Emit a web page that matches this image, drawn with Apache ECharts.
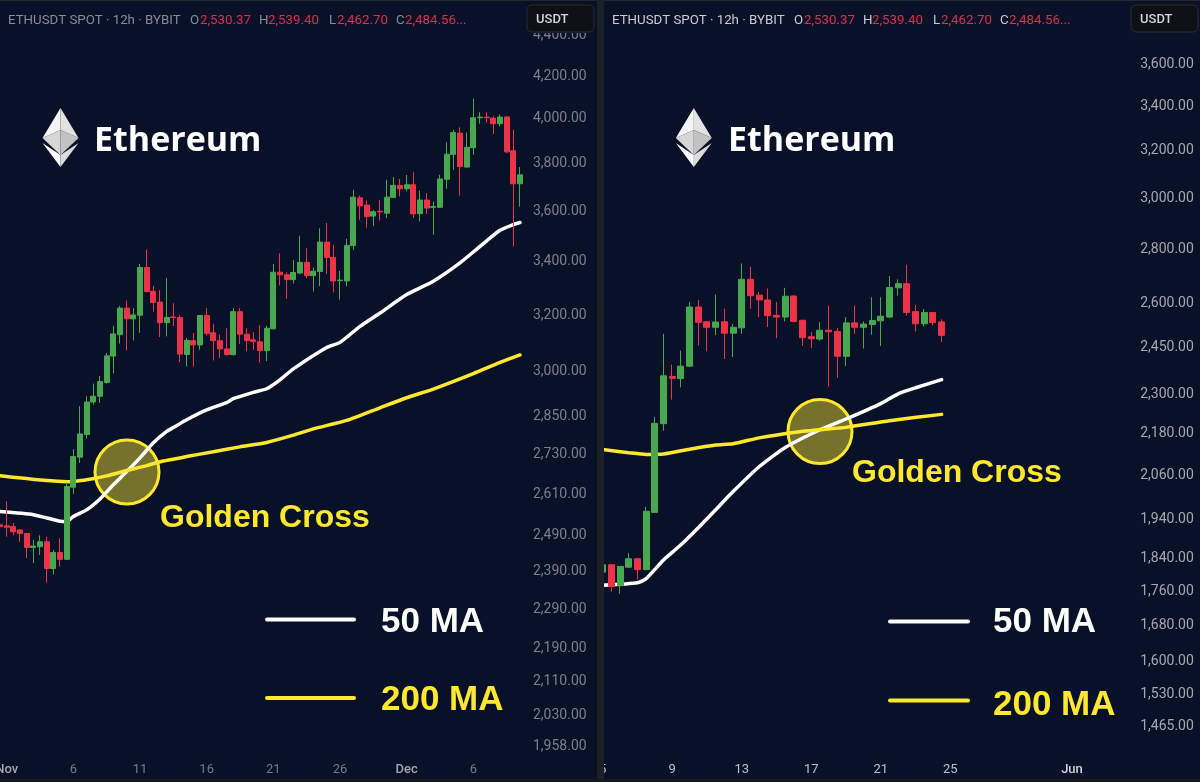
<!DOCTYPE html>
<html>
<head>
<meta charset="utf-8">
<title>Ethereum golden cross</title>
<script src="https://cdn.jsdelivr.net/npm/echarts@6/dist/echarts.min.js"></script>
<style>
  html, body { margin: 0; padding: 0; background: #091128; }
  #main { width: 1200px; height: 782px; }
</style>
</head>
<body>
<div id="main"></div>
<script>
// left panel, Nov - Dec, 12h candles
var openL  = [2515,2512,2510,2500,2490,2451,2453,2467,2393,2437,2418,2625,2716,2787,2892,2911,2957,3047,3122,3218,3179,3192,3370,3280,3240,3165,3186,3184,3053,3101,3086,3191,3129,3101,3072,3052,3205,3124,3104,3097,3066,3143,3352,3342,3324,3349,3390,3339,3355,3469,3409,3320,3319,3455,3648,3618,3573,3593,3585,3650,3700,3686,3703,3583,3639,3609,3609,3726,3833,3927,3778,3862,3996,3999,3994,3969,4000,3849,3707];
var closeL = [2510,2508,2495,2490,2451,2455,2467,2393,2437,2418,2627,2718,2789,2892,2911,2960,3048,3125,3218,3179,3193,3370,3279,3239,3165,3184,3184,3054,3102,3086,3191,3127,3101,3072,3052,3205,3124,3102,3098,3066,3145,3352,3342,3324,3351,3390,3339,3356,3469,3409,3319,3322,3456,3651,3615,3571,3591,3590,3651,3700,3686,3703,3582,3639,3606,3612,3727,3834,3930,3780,3864,3996,3999,3996,3969,3999,3844,3707,3745];
var lowL   = [2467,2481,2485,2467,2421,2408,2430,2355,2377,2398,2416,2605,2698,2774,2883,2889,2953,2988,3091,3067,3102,3129,3276,3205,3114,3116,3153,3026,3011,3011,3069,3119,3032,3040,3049,3049,3089,3064,3069,3025,3030,3141,3302,3252,3309,3345,3330,3279,3299,3345,3276,3249,3299,3439,3558,3526,3532,3555,3565,3647,3654,3675,3566,3551,3582,3498,3608,3686,3766,3657,3776,3831,3969,3975,3922,3957,3839,3452,3612];
var highL  = [2524,2583,2520,2502,2492,2472,2485,2481,2444,2476,2639,2741,2878,2911,2953,2979,3058,3154,3226,3246,3218,3384,3440,3301,3284,3330,3236,3194,3110,3128,3193,3218,3161,3122,3145,3218,3218,3145,3131,3156,3154,3384,3425,3352,3399,3494,3445,3370,3524,3545,3458,3357,3482,3682,3658,3637,3598,3640,3724,3735,3728,3744,3756,3678,3668,3633,3745,3886,3942,3953,3930,4084,4021,4021,4002,4011,4002,3942,3778];
var ma50L  = [[0,2553],[5,2544],[9,2525],[10,2524],[11,2539],[13,2558],[15,2590],[17,2632],[19,2672],[21,2714],[23,2761],[25,2797],[26,2809],[28,2834],[31,2866],[34,2890],[35,2903],[38,2924],[40,2936],[42,2966],[44,3003],[49,3077],[51,3095],[54,3152],[57,3200],[61,3268],[65,3318],[69,3388],[72,3452],[75,3516],[77,3539],[78,3547]];
var ma200L = [[0,2659],[10,2641],[11,2642],[13,2647],[16,2659],[19,2675],[22,2690],[24,2702],[28,2718],[32,2733],[36,2748],[40,2762],[44,2785],[47,2805],[52,2832],[57,2873],[61,2906],[65,2935],[71,2987],[75,3025],[78,3051]];
var tickIdxL  = [1,11,21,31,41,51,61,71];
var tickTextL = ['Nov','6','11','16','21','26','Dec','6'];
var yTicksL = [4400,4200,4000,3800,3600,3400,3200,3000,2850,2730,2610,2490,2390,2290,2190,2110,2030,1958];

// right panel, May - Jun, 12h candles
var openR  = [1802,1820,1769,1814,1835,1808,1954,2204,2350,2343,2383,2582,2531,2512,2531,2492,2510,2681,2624,2607,2553,2547,2621,2536,2480,2472,2502,2498,2415,2527,2512,2521,2534,2547,2650,2665,2566,2524,2563,2530.37];
var closeR = [1820,1767,1816,1835,1808,1957,2205,2352,2344,2383,2582,2529,2512,2530,2492,2512,2681,2622,2607,2552,2547,2620,2532,2477,2473,2502,2497,2415,2527,2512,2523,2535,2550,2651,2665,2563,2524,2563,2528,2484.56];
var lowR   = [1800,1755,1750,1813,1784,1807,1953,2183,2277,2315,2381,2451,2431,2485,2406,2413,2490,2576,2546,2513,2475,2532,2529,2450,2442,2467,2318,2346,2383,2490,2441,2487,2449,2544,2622,2552,2498,2515,2518,2462.70];
var highR  = [1822,1821,1817,1849,1836,1969,2225,2490,2388,2434,2600,2607,2533,2626,2576,2523,2739,2727,2635,2648,2600,2650,2622,2537,2496,2529,2587,2510,2547,2587,2532,2616,2616,2693,2681,2735,2590,2575,2563,2539.40];
var ma50R  = [[0,1770],[4,1776],[5,1786],[7,1832],[9,1870],[11,1914],[13,1961],[15,2010],[18,2079],[21,2134],[25,2186],[28,2218],[32,2265],[34,2295],[36,2314],[39,2340]];
var ma200R = [[0,2128],[3,2119],[5,2114],[7,2115],[10,2129],[13,2141],[15,2145],[18,2162],[22,2178],[25,2186],[28,2193],[33,2213],[39,2232]];
var tickIdxR  = [0,8,16,24,32,40,54];
var tickTextR = ['5','9','13','17','21','25','Jun'];
var yTicksR = [3600,3400,3200,3000,2800,2600,2450,2300,2180,2060,1940,1840,1760,1680,1600,1530,1465];

var BG = '#091128', UP = '#47a84f', DOWN = '#ee3348', WHITE = '#ffffff', YELLOW = '#fde82f';

function cats(n, idx, text) {
    var out = [];
    for (var i = 0; i < n; i++) out.push('');
    idx.forEach(function (k, j) { out[k] = text[j]; });
    return out;
}
function candles(o, c, l, h) {
    return o.map(function (v, i) { return [v, c[i], l[i], h[i]]; });
}
function priceFmt(v) {
    return '{p|' + Number(v).toLocaleString('en-US', { minimumFractionDigits: 2, maximumFractionDigits: 2 }) + '}';
}

function xAxis(idx, n, text, color, monthColor) {
    return {
        type: 'category', gridIndex: idx, data: cats(n, idx === 0 ? tickIdxL : tickIdxR, text),
        axisLine: { show: false }, axisTick: { show: false }, splitLine: { show: false },
        axisLabel: {
            interval: function (i, v) { return v !== ''; },
            margin: 8, color: color, fontFamily: 'Roboto', fontSize: 13,
            hideOverlap: false,
            formatter: function (v) { return isNaN(+v) ? '{m|' + v + '}' : v; },
            rich: { m: { color: monthColor, fontFamily: 'Roboto', fontSize: 13, fontWeight: 500 } }
        }
    };
}
function yAxis(idx, min, max, ticks, color) {
    return {
        type: 'log', gridIndex: idx, position: 'right', min: min, max: max, scale: true,
        axisLine: { show: false }, axisTick: { show: false }, splitLine: { show: false }, minorTick: { show: false }, minorSplitLine: { show: false },
        axisLabel: {
            customValues: ticks, margin: 3, color: color, formatter: priceFmt,
            // taller line with the text at its foot, this drops the label onto the tick
            rich: { p: { color: color, fontFamily: 'Roboto', fontSize: 14, lineHeight: 18, verticalAlign: 'bottom' } }
        }
    };
}
function candleSeries(idx, data, w) {
    return {
        type: 'candlestick', xAxisIndex: idx, yAxisIndex: idx, data: data, barWidth: w, z: 4,
        itemStyle: { color: UP, color0: DOWN, borderColor: UP, borderColor0: DOWN, borderWidth: 1 }
    };
}
function maSeries(idx, data, color) {
    return {
        type: 'line', xAxisIndex: idx, yAxisIndex: idx, data: data, showSymbol: false, smooth: 0.2, z: 3,
        lineStyle: { color: color, width: 3.5, cap: 'round' }
    };
}

// header text is placed piece by piece, same layout in both panels
function header(dx, dim, label) {
    var red = '#dc2f48';
    var parts = [
        [8, 'ETHUSDT SPOT · 12h · BYBIT', dim], [190, 'O', dim], [200, '2,530.37', red], [259, 'H', dim], [268, '2,539.40', red],
        [329, 'L', dim], [337, '2,462.70', red], [396, 'C', dim], [405, '2,484.56...', red]
    ];
    var out = parts.map(function (p) {
        return { type: 'text', x: p[0] + dx, y: 21, z: 102,
            style: { text: p[1], fill: p[2], font: '13.3px Roboto', textVerticalAlign: 'middle' } };
    });
    out.push({ type: 'rect', z: 101, shape: { x: 527 + dx, y: 5, width: 67, height: 27, r: 5 },
        style: { fill: '#0e1015', stroke: '#292c34', lineWidth: 1 } });
    out.push({ type: 'text', x: 536 + dx, y: 20, z: 102,
        style: { text: 'USDT', fill: label, font: '500 13px Roboto', textVerticalAlign: 'middle' } });
    return out;
}
function logo(cx) {
    var poly = function (pts, fill) { return { type: 'polygon', z: 5, shape: { points: pts.map(function (p) { return [cx + p[0], p[1]]; }) }, style: { fill: fill } }; };
    return [
        poly([[0,108],[-18,138],[0,130]], '#f4f4f4'),
        poly([[0,108],[18,138],[0,130]], '#e2e2e2'),
        poly([[-18,138],[0,130],[0,155]], '#d6d6d6'),
        poly([[18,138],[0,130],[0,155]], '#c2c2c2'),
        poly([[-18,143],[0,155],[0,167]], '#ffffff'),
        poly([[18,143],[0,155],[0,167]], '#dcdcdc')
    ];
}
function label(x, y, text, color, font) {
    return { type: 'text', x: x, y: y + 2, z: 6, style: { text: text, fill: color, font: font, textVerticalAlign: 'middle' } };
}
function keyLine(x1, x2, y, color) {
    return { type: 'line', z: 6, shape: { x1: x1, y1: y, x2: x2, y2: y }, style: { stroke: color, lineWidth: 4, lineCap: 'round' } };
}
function ring(cx, cy) {
    return { type: 'circle', z: 1, shape: { cx: cx, cy: cy, r: 32 },
        style: { fill: 'rgba(253,232,47,0.45)', stroke: YELLOW, lineWidth: 3 } };
}

var TITLE = '700 34px "Open Sans"', BIG = '700 35px "Liberation Sans"', CROSS = '700 32px "Liberation Sans"';
var graphics = [
    // header strips hide the tick labels that scroll under them
    { type: 'rect', z: 100, shape: { x: 0, y: 0, width: 1200, height: 33 }, style: { fill: BG } },
    { type: 'rect', z: 103, shape: { x: 0, y: 0, width: 1200, height: 1 }, style: { fill: '#23262d' } },
    { type: 'rect', z: 103, shape: { x: 597, y: 0, width: 7, height: 782 }, style: { fill: '#1e2027' } },
    { type: 'rect', z: 103, shape: { x: 0, y: 779, width: 1200, height: 3 }, style: { fill: '#15181f' } },
    ring(127, 472), ring(820, 431.5),
    label(94, 139, 'Ethereum', '#ffffff', TITLE), label(728, 139, 'Ethereum', '#ffffff', TITLE),
    label(160, 516, 'Golden Cross', YELLOW, CROSS), label(852, 471, 'Golden Cross', YELLOW, CROSS),
    keyLine(267, 354, 619.5, WHITE), keyLine(267, 354, 698, YELLOW),
    keyLine(890, 968, 621.5, WHITE), keyLine(890, 968, 700.5, YELLOW),
    label(381, 620, '50 MA', '#ffffff', BIG), label(381, 698, '200 MA', YELLOW, BIG),
    label(993, 620, '50 MA', '#ffffff', BIG), label(993, 703, '200 MA', YELLOW, BIG)
].concat(header(0, '#878c98', '#d4d6da'), header(604, '#c9ccd2', '#d4d6da'), logo(60.5), logo(693.8));

var chart = echarts.init(document.getElementById('main'));
chart.setOption({
    backgroundColor: BG,
    animation: false,
    grid: [
        { left: -3.33, top: 30, width: 533.33, height: 725, outerBoundsMode: 'none' },
        { left: 598.36, top: 30, width: 538.8, height: 725, outerBoundsMode: 'none' }
    ],
    xAxis: [
        xAxis(0, 80, tickTextL, '#767b87', '#a2a6af'),
        xAxis(1, 62, tickTextR, '#bcc0c7', '#cfd2d8')
    ],
    yAxis: [
        yAxis(0, 1935.5, 4415.6, yTicksL, '#7b808c'),
        yAxis(1, 1406, 3760, yTicksR, '#a4a8b1')
    ],
    series: [
        maSeries(0, ma50L, WHITE),
        maSeries(0, ma200L, YELLOW),
        candleSeries(0, candles(openL, closeL, lowL, highL), 5.5),
        maSeries(1, ma50R, WHITE),
        maSeries(1, ma200R, YELLOW),
        candleSeries(1, candles(openR, closeR, lowR, highR), 6.5)
    ],
    graphic: graphics
});
</script>
</body>
</html>
